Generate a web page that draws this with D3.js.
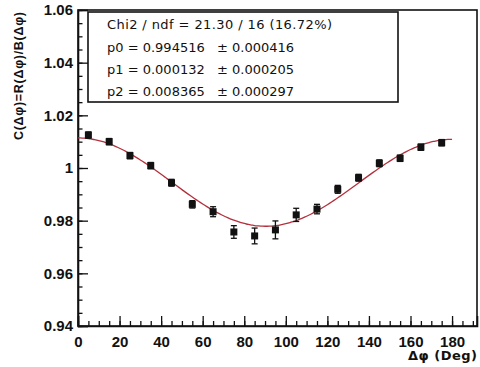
<!DOCTYPE html>
<html>
<head>
<meta charset="utf-8">
<script src="https://cdn.jsdelivr.net/npm/d3@7"></script>
<style>
  body { margin: 0; background: #fff; }
  svg { display: block; font-family: "Liberation Sans", Arial, sans-serif; }
</style>
</head>
<body>
<svg id="chart" width="480" height="367"></svg>
<script>
// bin centres (deg), measured correlation and errors
const phi = [5, 15, 25, 35, 45, 55, 65, 75, 85, 95, 105, 115, 125, 135, 145, 155, 165, 175];
const cVal = [1.0125, 1.0100, 1.0047, 1.0009, 0.9944, 0.9862, 0.9834, 0.9757, 0.9742, 0.9765,
              0.9822, 0.9844, 0.9919, 0.9963, 1.0018, 1.0037, 1.0079, 1.0096];
const cErr = [0.0012, 0.0012, 0.0012, 0.0012, 0.0013, 0.0014, 0.0019, 0.0024, 0.0030, 0.0034,
              0.0025, 0.0018, 0.0015, 0.0013, 0.0013, 0.0012, 0.0012, 0.0012];

// fit parameters from the stats box
const p0 = 0.994516, p1 = 0.000132, p2 = 0.008365;
const statLines = ["Chi2 / ndf = 21.30 / 16 (16.72%)", "p0 = 0.994516", "p1 = 0.000132", "p2 = 0.008365"];
const statErrs = ["", "\u00b1 0.000416", "\u00b1 0.000205", "\u00b1 0.000297"];

const yTicks = [0.94, 0.96, 0.98, 1, 1.02, 1.04, 1.06];
const xTicks = [0, 20, 40, 60, 80, 100, 120, 140, 160, 180];

const L = 78, R = 477, T = 10, B = 326;
const svg = d3.select("#chart");

const x = d3.scaleLinear().domain([0, 192]).range([L, R]);
const y = d3.scaleLinear().domain([0.94, 1.06]).range([B, T]);

// frame
svg.append("rect")
  .attr("x", L).attr("y", T).attr("width", R - L).attr("height", B - T)
  .attr("fill", "none").attr("stroke", "#111").attr("stroke-width", 1.6);

// x axis (ticks point into the frame)
svg.append("g").attr("transform", `translate(0,${B})`)
  .call(d3.axisBottom(x).tickValues(d3.range(0, 192, 5)).tickSize(-5).tickFormat(""))
  .call(g => g.select(".domain").remove());
const xa = svg.append("g").attr("transform", `translate(0,${B})`)
  .call(d3.axisBottom(x).tickValues(xTicks).tickSize(-10).tickPadding(10).tickFormat(d3.format("d")));
xa.select(".domain").attr("stroke", "#111").attr("stroke-width", 1.6);

// y axis
svg.append("g").attr("transform", `translate(${L},0)`)
  .call(d3.axisLeft(y).tickValues(d3.range(0, 25).map(i => 0.94 + i * 0.005)).tickSize(-4.5).tickFormat(""))
  .call(g => g.select(".domain").remove());
const ya = svg.append("g").attr("transform", `translate(${L},0)`)
  .call(d3.axisLeft(y).tickValues(yTicks).tickSize(-10).tickPadding(5)
    .tickFormat(d => d === 1 ? "1" : d3.format(".2f")(d)));
ya.select(".domain").attr("stroke", "#111").attr("stroke-width", 1.6);

svg.selectAll(".tick line").attr("stroke", "#111").attr("stroke-width", 1.3);
svg.selectAll(".tick text").attr("fill", "#111").style("font-size", "15px").style("font-weight", "bold")
  .style("font-family", "Liberation Sans, Arial, sans-serif");

// axis titles
svg.append("text").attr("x", R).attr("y", 360).attr("text-anchor", "end")
  .style("font-size", "13px").style("font-weight", "bold").style("font-family", "DejaVu Sans, sans-serif")
  .attr("fill", "#111").attr("textLength", 69)
  .text("\u0394\u03c6 (Deg)");
svg.append("text").attr("transform", `translate(23,${T + 2}) rotate(-90)`).attr("text-anchor", "end")
  .style("font-size", "12.5px").style("font-weight", "bold").attr("fill", "#111").attr("textLength", 128)
  .text("C(\u0394\u03c6)=R(\u0394\u03c6)/B(\u0394\u03c6)");

// fit curve
const fitX = d3.range(0, 180.5, 1);
const fit = v => {
  const r = v * Math.PI / 180;
  return p0 * (1 + 2 * p1 * Math.cos(r) + 2 * p2 * Math.cos(2 * r));
};
svg.append("path")
  .datum(fitX)
  .attr("fill", "none").attr("stroke", "#b3303c").attr("stroke-width", 1.3)
  .attr("d", d3.line().x(d => x(d)).y(d => y(fit(d))).curve(d3.curveBasis));

// error bars + markers
const pts = svg.append("g").selectAll("g").data(phi).join("g");
pts.append("line")
  .attr("x1", d => x(d)).attr("x2", d => x(d))
  .attr("y1", (d, i) => y(cVal[i] - cErr[i])).attr("y2", (d, i) => y(cVal[i] + cErr[i]))
  .attr("stroke", "#111").attr("stroke-width", 1.3);
[-1, 1].forEach(s => {
  pts.append("line")
    .attr("x1", d => x(d) - 3).attr("x2", d => x(d) + 3)
    .attr("y1", (d, i) => y(cVal[i] + s * cErr[i])).attr("y2", (d, i) => y(cVal[i] + s * cErr[i]))
    .attr("stroke", "#111").attr("stroke-width", 1.3);
});
pts.append("rect")
  .attr("x", d => x(d) - 3.5).attr("y", (d, i) => y(cVal[i]) - 3.5)
  .attr("width", 7).attr("height", 7).attr("fill", "#111");

// stats box
const box = svg.append("g");
box.append("rect").attr("x", 88).attr("y", 12).attr("width", 310).attr("height", 90)
  .attr("fill", "#fff").attr("stroke", "#111").attr("stroke-width", 1.6);
const rowY = [28.5, 51.5, 74, 95.5];
box.selectAll(".sl").data(statLines).join("text").attr("class", "sl")
  .attr("x", 107).attr("y", (d, i) => rowY[i])
  .style("font-size", "13px").style("font-family", "DejaVu Sans, sans-serif").attr("fill", "#111")
  .each(function (d, i) { if (i === 0) d3.select(this).attr("textLength", 225); })
  .text(d => d);
box.selectAll(".se").data(statErrs).join("text").attr("class", "se")
  .attr("x", 217).attr("y", (d, i) => rowY[i])
  .style("font-size", "13px").style("font-family", "DejaVu Sans, sans-serif").attr("fill", "#111")
  .text(d => d);
</script>
</body>
</html>
